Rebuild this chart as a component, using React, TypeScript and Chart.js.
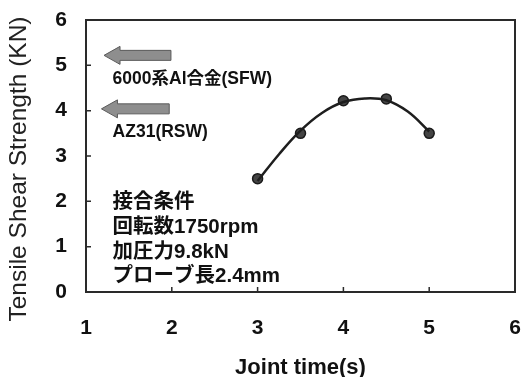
import React, { useEffect, useRef } from "react";
import { Chart, registerables } from "chart.js";

Chart.register(...registerables);

// Measured points
const jointTimes = [3.0, 3.5, 4.0, 4.5, 5.0];
const strengths = [2.5, 3.5, 4.22, 4.26, 3.5];

// Fitted curve
const curveX = [3.0, 3.25, 3.5, 3.75, 4.0, 4.25, 4.5, 4.75, 5.0];
const curveY = [2.45, 3.04, 3.56, 3.95, 4.19, 4.27, 4.23, 3.98, 3.54];

// Reference arrows (strength levels of other methods)
const arrowLevels = [5.22, 4.04];
const arrowTipX = [1.21, 1.18];
const arrowTailX = [1.99, 1.97];
const arrowLabels = ["6000系Al合金(SFW)", "AZ31(RSW)"];
const arrowLabelY = [4.7, 3.52];
const arrowLabelX = 1.31;

// Conditions text block
const conditionLines = ["接合条件", "回転数1750rpm", "加圧力9.8kN", "プローブ長2.4mm"];
const conditionY = [1.98, 1.43, 0.88, 0.35];
const conditionX = 1.31;

const xTicks = [1, 2, 3, 4, 5, 6];
const yTicks = [0, 1, 2, 3, 4, 5, 6];

const xTitle = "Joint time(s)";
const yTitle = "Tensile Shear Strength (KN)";

const LATIN = "'Liberation Sans', Arial, 'Noto Sans CJK JP', sans-serif";

const decorPlugin = {
  id: "decor",
  afterDraw(chart: any) {
    const { ctx, chartArea } = chart;
    const xs = chart.scales.x;
    const ys = chart.scales.y;
    ctx.save();
    // frame
    ctx.strokeStyle = "#2a2a2a";
    ctx.lineWidth = 2;
    ctx.strokeRect(chartArea.left, chartArea.top, chartArea.right - chartArea.left, chartArea.bottom - chartArea.top);
    // inward ticks
    ctx.lineWidth = 1.5;
    ctx.beginPath();
    xTicks.slice(1, -1).forEach((v) => {
      const px = xs.getPixelForValue(v);
      ctx.moveTo(px, chartArea.bottom);
      ctx.lineTo(px, chartArea.bottom - 5);
    });
    yTicks.slice(1, -1).forEach((v) => {
      const py = ys.getPixelForValue(v);
      ctx.moveTo(chartArea.left, py);
      ctx.lineTo(chartArea.left + 5, py);
    });
    ctx.stroke();

    // arrows
    arrowLevels.forEach((lvl, i) => {
      const y = ys.getPixelForValue(lvl);
      const tip = xs.getPixelForValue(arrowTipX[i]);
      const tail = xs.getPixelForValue(arrowTailX[i]);
      const headLen = 16;
      const bodyH = 5;
      const headH = 9;
      ctx.beginPath();
      ctx.moveTo(tip, y);
      ctx.lineTo(tip + headLen, y - headH);
      ctx.lineTo(tip + headLen, y - bodyH);
      ctx.lineTo(tail, y - bodyH);
      ctx.lineTo(tail, y + bodyH);
      ctx.lineTo(tip + headLen, y + bodyH);
      ctx.lineTo(tip + headLen, y + headH);
      ctx.closePath();
      ctx.fillStyle = "#8e8e8e";
      ctx.fill();
      ctx.strokeStyle = "#5a5a5a";
      ctx.lineWidth = 1;
      ctx.stroke();
    });

    // texts
    ctx.fillStyle = "#111";
    ctx.textAlign = "left";
    ctx.textBaseline = "middle";
    ctx.font = `bold 17.5px ${LATIN}`;
    arrowLabels.forEach((t, i) => {
      ctx.fillText(t, xs.getPixelForValue(arrowLabelX), ys.getPixelForValue(arrowLabelY[i]));
    });
    ctx.font = `bold 20.5px ${LATIN}`;
    conditionLines.forEach((t, i) => {
      ctx.fillText(t, xs.getPixelForValue(conditionX), ys.getPixelForValue(conditionY[i]));
    });

    // axis titles
    ctx.textAlign = "center";
    ctx.font = `bold 22px ${LATIN}`;
    ctx.fillText(xTitle, (chartArea.left + chartArea.right) / 2, 368);
    ctx.save();
    ctx.translate(19, 169);
    ctx.rotate(-Math.PI / 2);
    ctx.font = `24.5px ${LATIN}`;
    ctx.fillStyle = "#222";
    ctx.fillText(yTitle, 0, 0);
    ctx.restore();
    ctx.restore();
  },
};

const zeroPad = (s: any) => {
  s.paddingLeft = 0;
  s.paddingRight = 0;
  s.paddingTop = 0;
  s.paddingBottom = 0;
};

export default function App() {
  const ref = useRef<HTMLCanvasElement | null>(null);
  useEffect(() => {
    document.body.style.margin = "0";
    const canvas = ref.current;
    if (!canvas) return;
    const chart = new Chart(canvas, {
      type: "scatter",
      data: {
        datasets: [
          {
            label: "curve",
            data: curveX.map((x, i) => ({ x, y: curveY[i] })),
            showLine: true,
            borderColor: "#1e1e1e",
            borderWidth: 2.5,
            pointRadius: 0,
            tension: 0.4,
            fill: false,
          },
          {
            label: "measured",
            data: jointTimes.map((x, i) => ({ x, y: strengths[i] })),
            showLine: false,
            pointRadius: 5,
            pointBackgroundColor: "#444",
            pointBorderColor: "#1a1a1a",
            pointBorderWidth: 1.5,
          },
        ],
      },
      options: {
        animation: false,
        responsive: false,
        layout: { padding: { top: 20, right: 7, left: 0, bottom: 0 } },
        plugins: { legend: { display: false }, tooltip: { enabled: false } },
        scales: {
          x: {
            type: "linear",
            min: 1,
            max: 6,
            afterBuildTicks: (s: any) => {
              s.ticks = xTicks.map((v) => ({ value: v }));
            },
            afterFit: (s: any) => {
              s.height = 85;
              zeroPad(s);
            },
            grid: { display: false, drawTicks: false },
            border: { display: false },
            ticks: {
              padding: 24,
              color: "#111",
              font: { family: LATIN, size: 21, weight: "bold" },
            },
          },
          y: {
            type: "linear",
            min: 0,
            max: 6,
            afterBuildTicks: (s: any) => {
              s.ticks = yTicks.map((v) => ({ value: v }));
            },
            afterFit: (s: any) => {
              s.width = 86;
              zeroPad(s);
            },
            grid: { display: false, drawTicks: false },
            border: { display: false },
            ticks: {
              padding: 19,
              color: "#111",
              font: { family: LATIN, size: 21, weight: "bold" },
            },
          },
        },
      },
      plugins: [decorPlugin],
    } as any);
    return () => chart.destroy();
  }, []);
  return (
    <div style={{ width: 522, height: 377 }}>
      <canvas ref={ref} width={522} height={377} />
    </div>
  );
}
